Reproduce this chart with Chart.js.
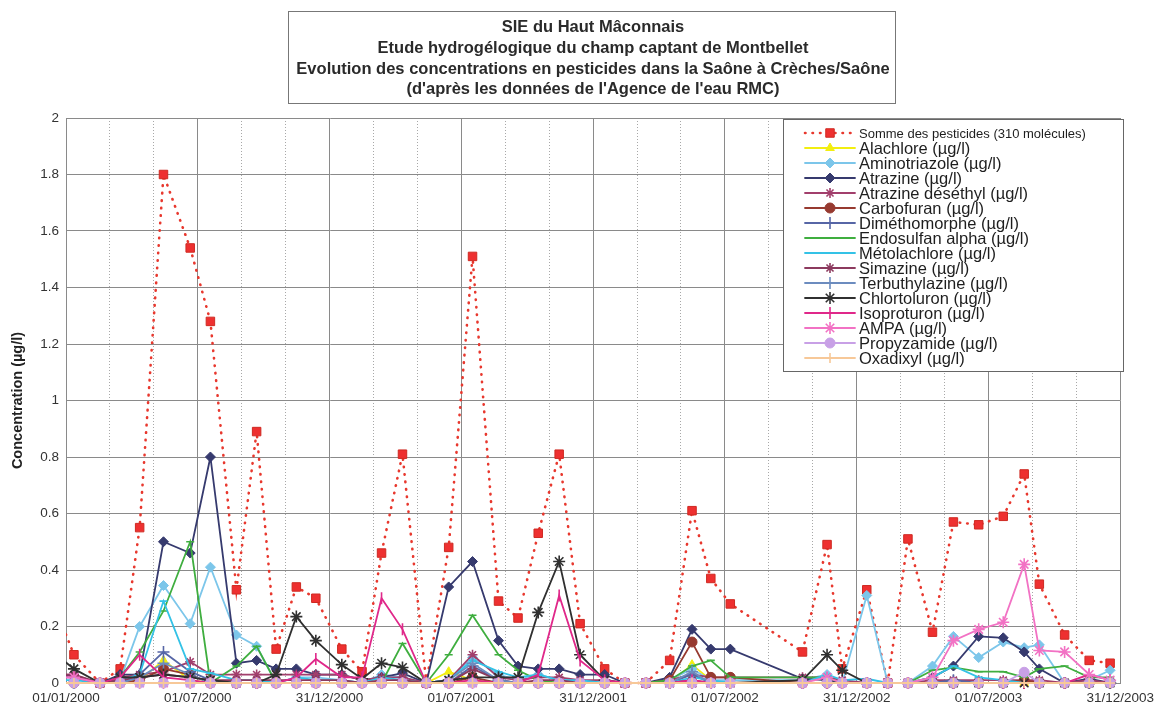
<!DOCTYPE html>
<html lang="fr">
<head>
  <meta charset="UTF-8">
  <title>Pesticides Saône</title>
  <script src="https://cdn.jsdelivr.net/npm/chart.js@4.4.0/dist/chart.umd.min.js"></script>
  <style>
    body { margin: 0; background: #fff; }
  </style>
</head>
<body>
  <canvas id="myChart" width="1161" height="709"></canvas>

  <script>
    // dates des prélèvements
    const dates = [
      '1999-12-09', '2000-01-12', '2000-02-17', '2000-03-16', '2000-04-12', '2000-05-15', '2000-06-21',
      '2000-07-19', '2000-08-24', '2000-09-21', '2000-10-18', '2000-11-15', '2000-12-12',
      '2001-01-17', '2001-02-14', '2001-03-13', '2001-04-11', '2001-05-14', '2001-06-14',
      '2001-07-17', '2001-08-22', '2001-09-18', '2001-10-16', '2001-11-14', '2001-12-13',
      '2002-01-16', '2002-02-13', '2002-03-14', '2002-04-16', '2002-05-17', '2002-06-12',
      '2002-07-09', '2002-10-17', '2002-11-20', '2002-12-11',
      '2003-01-14', '2003-02-12', '2003-03-12', '2003-04-15', '2003-05-14', '2003-06-18',
      '2003-07-22', '2003-08-20', '2003-09-10', '2003-10-15', '2003-11-18', '2003-12-17'
    ];

    // concentrations (µg/l)
    const somme = [0.32, 0.10, 0, 0.05, 0.55, 1.80, 1.54, 1.28, 0.33, 0.89, 0.12, 0.34, 0.30,
      0.12, 0.04, 0.46, 0.81, 0, 0.48, 1.51, 0.29, 0.23, 0.53, 0.81, 0.21,
      0.05, 0, 0, 0.08, 0.61, 0.37, 0.28, 0.11, 0.49, 0.05,
      0.33, 0, 0.51, 0.18, 0.57, 0.56, 0.59, 0.74, 0.35, 0.17, 0.08, 0.07];
    const alachlore = [0, 0, 0, 0, 0.01, 0.08, 0.01, 0, 0, 0, 0, 0, 0,
      0, 0, 0, 0, 0, 0.04, 0.01, 0, 0, 0, 0, 0,
      0, 0, 0, 0, 0.065, 0.01, 0, 0, 0, 0,
      0, 0, 0, 0, 0, 0, 0, 0, 0, 0, 0, 0];
    const aminotriazole = [0.02, 0.02, 0, 0.01, 0.20, 0.345, 0.21, 0.41, 0.17, 0.13, 0, 0.02, 0.02,
      0.01, 0, 0.03, 0.02, 0, 0.01, 0.09, 0.03, 0.01, 0.03, 0.01, 0.01,
      0, 0, 0, 0.01, 0.05, 0.01, 0.01, 0.01, 0.03, 0,
      0.31, 0, 0, 0.06, 0.165, 0.09, 0.145, 0.125, 0.135, 0, 0.01, 0.045];
    const atrazine = [0.03, 0.025, 0, 0.03, 0.03, 0.50, 0.46, 0.80, 0.07, 0.08, 0.05, 0.05, 0.03,
      0.03, 0.01, 0.02, 0.035, 0, 0.34, 0.43, 0.15, 0.06, 0.05, 0.05, 0.03,
      0.03, 0, 0, 0.02, 0.19, 0.12, 0.12, 0.015, 0.01, 0,
      0, 0, 0, 0.02, 0.06, 0.165, 0.16, 0.11, 0.05, 0, 0.015, 0];
    const atrazineDes = [0.03, 0.03, 0, 0.02, 0.03, 0.04, 0.075, 0.03, 0.03, 0.03, 0.03, 0.03, 0.03,
      0.03, 0.01, 0.02, 0.02, 0, 0.01, 0.10, 0.02, 0.01, 0.02, 0.02, 0.01,
      0.01, 0, 0, 0.01, 0.03, 0.02, 0.02, 0.02, 0.02, 0.01,
      0, 0, 0, 0.01, 0.01, 0.01, 0.01, 0.01, 0.01, 0, 0.01, 0];
    const carbofuran = [0, 0, 0, 0, 0.01, 0.05, 0.03, 0, 0, 0, 0, 0, 0,
      0, 0, 0, 0, 0, 0, 0.02, 0, 0, 0, 0, 0,
      0, 0, 0, 0.01, 0.145, 0.02, 0.02, 0, 0, 0,
      0, 0, 0, 0, 0, 0, 0, 0.01, 0, 0, 0, 0];
    const dimethomorphe = [0, 0, 0, 0, 0.03, 0.11, 0.04, 0.01, 0, 0, 0, 0, 0,
      0, 0, 0, 0, 0, 0, 0.06, 0.01, 0, 0, 0, 0,
      0, 0, 0, 0, 0.03, 0, 0, 0, 0, 0,
      0, 0, 0, 0, 0.01, 0, 0, 0, 0, 0, 0, 0];
    const endosulfan = [0, 0, 0, 0.02, 0.11, 0.255, 0.50, 0, 0.06, 0.13, 0, 0, 0,
      0, 0, 0, 0.14, 0, 0.10, 0.24, 0.10, 0.045, 0.01, 0, 0,
      0, 0, 0, 0.01, 0.06, 0.08, 0.02, 0.02, 0.02, 0,
      0, 0, 0, 0.045, 0.055, 0.04, 0.04, 0.02, 0.05, 0.06, 0.02, 0.02];
    const metolachlore = [0.01, 0.01, 0, 0.01, 0.03, 0.29, 0.05, 0.035, 0.01, 0.01, 0, 0.02, 0.01,
      0.01, 0, 0.02, 0.01, 0, 0.01, 0.08, 0.04, 0.02, 0.03, 0.01, 0.01,
      0, 0, 0, 0, 0.02, 0.01, 0, 0, 0.03, 0.01,
      0.015, 0, 0, 0.02, 0.06, 0.02, 0.01, 0, 0, 0, 0, 0];
    const simazine = [0.03, 0.03, 0, 0.01, 0.02, 0.03, 0.02, 0.01, 0.01, 0.01, 0.01, 0.01, 0.01,
      0.01, 0, 0.01, 0.01, 0, 0, 0.05, 0.01, 0, 0.01, 0.01, 0,
      0, 0, 0, 0, 0.01, 0, 0, 0, 0, 0,
      0, 0, 0, 0, 0, 0, 0, 0, 0, 0, 0, 0];
    const terbuthylazine = [0, 0, 0, 0, 0.02, 0.07, 0.03, 0, 0, 0, 0, 0, 0,
      0, 0, 0, 0, 0, 0.01, 0.07, 0.01, 0, 0, 0, 0,
      0, 0, 0, 0, 0.04, 0, 0, 0, 0, 0,
      0, 0, 0, 0, 0, 0, 0, 0, 0, 0, 0, 0];
    const chlortoluron = [0.12, 0.05, 0, 0.02, 0.02, 0.03, 0.02, 0.01, 0, 0, 0.03, 0.235, 0.15,
      0.065, 0.015, 0.07, 0.055, 0, 0.01, 0.02, 0.02, 0.02, 0.25, 0.43, 0.10,
      0.01, 0, 0, 0, 0, 0, 0, 0.01, 0.10, 0.045,
      0, 0, 0, 0, 0, 0, 0, 0, 0, 0, 0, 0];
    const isoproturon = [0.02, 0.02, 0, 0.02, 0.10, 0.02, 0.01, 0, 0, 0, 0, 0.02, 0.085,
      0.02, 0.02, 0.30, 0.19, 0, 0, 0.01, 0, 0, 0.03, 0.31, 0.08,
      0.01, 0, 0, 0, 0.01, 0, 0, 0, 0, 0,
      0, 0, 0, 0, 0, 0, 0, 0, 0, 0, 0.03, 0.01];
    const ampa = [0.02, 0.02, 0, 0, 0, 0, 0, 0, 0, 0, 0, 0, 0,
      0, 0, 0, 0, 0, 0, 0, 0, 0, 0, 0, 0,
      0, 0, 0, 0, 0, 0, 0, 0, 0.02, 0,
      0, 0, 0, 0.02, 0.15, 0.19, 0.215, 0.42, 0.115, 0.11, 0.03, 0.01];
    const propyzamide = [0, 0, 0, 0, 0, 0, 0, 0, 0, 0, 0, 0, 0,
      0, 0, 0, 0, 0, 0, 0, 0, 0, 0, 0, 0,
      0, 0, 0, 0, 0, 0, 0, 0, 0, 0,
      0, 0, 0, 0, 0, 0, 0, 0.038, 0, 0, 0, 0];
    const oxadixyl = [0, 0, 0, 0, 0, 0, 0, 0, 0, 0, 0, 0, 0,
      0, 0, 0, 0, 0, 0, 0, 0, 0, 0, 0, 0,
      0, 0, 0, 0, 0, 0, 0, 0, 0, 0,
      0, 0, 0, 0, 0, 0, 0, 0, 0, 0, 0, 0];

    const titre = [
      'SIE du Haut Mâconnais',
      'Etude hydrogélogique du champ captant de Montbellet',
      'Evolution des concentrations en pesticides dans la Saône à Crèches/Saône',
      "(d'après les données de l'Agence de l'eau RMC)"
    ];

    const police = "'Liberation Sans', Arial, sans-serif";
    const jour0 = Date.UTC(2000, 0, 1);
    const finAxe = 1460; // 31/12/2003

    function jour(d) {
      const p = d.split('-');
      return (Date.UTC(+p[0], +p[1] - 1, +p[2]) - jour0) / 86400000;
    }
    function deux(n) { return (n < 10 ? '0' : '') + n; }
    function libelleDate(v) {
      const dt = new Date(jour0 + Math.floor(v + 1e-6) * 86400000);
      return deux(dt.getUTCDate()) + '/' + deux(dt.getUTCMonth() + 1) + '/' + dt.getUTCFullYear();
    }

    // [libellé, valeurs, couleur, marqueur, taille]
    const series = [
      ['Somme des pesticides (310 molécules)', somme, '#e8382e', 'rect', 6],
      ['Alachlore (µg/l)', alachlore, '#f2ee10', 'triangle', 5],
      ['Aminotriazole (µg/l)', aminotriazole, '#7cc6ea', 'rectRot', 5],
      ['Atrazine (µg/l)', atrazine, '#363a6e', 'rectRot', 5],
      ['Atrazine déséthyl (µg/l)', atrazineDes, '#a23f6c', 'star', 5],
      ['Carbofuran (µg/l)', carbofuran, '#973a30', 'circle', 5],
      ['Diméthomorphe (µg/l)', dimethomorphe, '#5766a6', 'cross', 6],
      ['Endosulfan alpha (µg/l)', endosulfan, '#3fae3f', 'line', 4],
      ['Métolachlore (µg/l)', metolachlore, '#34c2e6', 'line', 4],
      ['Simazine (µg/l)', simazine, '#8c3a5e', 'star', 5],
      ['Terbuthylazine (µg/l)', terbuthylazine, '#6c8cbf', 'cross', 6],
      ['Chlortoluron (µg/l)', chlortoluron, '#303030', 'star', 6],
      ['Isoproturon (µg/l)', isoproturon, '#e0288a', 'line', 6],
      ['AMPA (µg/l)', ampa, '#f272c4', 'star', 6],
      ['Propyzamide (µg/l)', propyzamide, '#c8a0e6', 'circle', 5],
      ['Oxadixyl (µg/l)', oxadixyl, '#f7c898', 'cross', 5]
    ];

    const datasets = series.map(function (s, i) {
      const somme = i === 0;
      return {
        label: s[0],
        data: dates.map(function (d, k) { return { x: jour(d), y: s[1][k] }; }),
        borderColor: s[2],
        backgroundColor: somme ? '#ee3030' : s[2],
        pointBorderColor: somme ? '#cf2a22' : s[2],
        borderWidth: somme ? 2.6 : 1.8,
        borderDash: somme ? [0.5, 7] : [],
        borderCapStyle: 'round',
        pointStyle: s[3],
        pointRadius: s[4],
        pointRotation: s[0].indexOf('Isoproturon') === 0 ? 90 : 0,
        pointBorderWidth: s[3] === 'star' || s[3] === 'cross' || s[3] === 'line' ? 1.6 : 1,
        tension: 0,
        fill: false,
        clip: { left: 0, top: 8, right: 8, bottom: 8 },
        order: -i
      };
    });

    const cadreTitre = {
      id: 'cadreTitre',
      afterDraw(chart) {
        const ctx = chart.ctx;
        ctx.save();
        ctx.strokeStyle = '#777';
        ctx.lineWidth = 1;
        ctx.strokeRect(288.5, 11.5, 607, 92);
        ctx.fillStyle = '#2a2a2a';
        ctx.font = 'bold 16.5px ' + police;
        ctx.textAlign = 'center';
        ctx.textBaseline = 'middle';
        const ys = [27, 48, 69, 89];
        titre.forEach(function (t, i) { ctx.fillText(t, 593, ys[i]); });
        ctx.restore();
      }
    };

    const legende = {
      id: 'legende',
      afterDraw(chart) {
        const ctx = chart.ctx;
        ctx.save();
        ctx.fillStyle = '#fff';
        ctx.fillRect(783, 119, 340, 252);
        ctx.strokeStyle = '#666';
        ctx.lineWidth = 1;
        ctx.strokeRect(783.5, 119.5, 340, 252);
        chart.data.datasets.forEach(function (ds, i) {
          const y = 133 + i * 15;
          ctx.save();
          ctx.strokeStyle = ds.borderColor;
          ctx.lineWidth = ds.borderWidth;
          ctx.lineCap = 'round';
          ctx.setLineDash(ds.borderDash);
          ctx.beginPath();
          ctx.moveTo(805, y);
          ctx.lineTo(855, y);
          ctx.stroke();
          ctx.restore();
          ctx.save();
          ctx.fillStyle = ds.backgroundColor;
          ctx.strokeStyle = ds.pointBorderColor;
          ctx.lineWidth = ds.pointBorderWidth;
          Chart.helpers.drawPoint(ctx, {
            pointStyle: ds.pointStyle,
            radius: ds.pointRadius,
            rotation: ds.pointRotation,
            borderWidth: ds.pointBorderWidth
          }, 830, y);
          ctx.restore();
          ctx.fillStyle = '#1e1e1e';
          ctx.textAlign = 'left';
          ctx.textBaseline = 'middle';
          ctx.font = (i === 0 ? '13px ' : '16.5px ') + police;
          ctx.fillText(ds.label, 859, y + 1);
        });
        ctx.restore();
      }
    };

    new Chart('myChart', {
      type: 'line',
      data: { datasets: datasets },
      options: {
        responsive: false,
        animation: false,
        devicePixelRatio: 1,
        layout: { padding: { top: 118, right: 37, left: 0, bottom: 0 } },
        plugins: {
          legend: { display: false },
          tooltip: { enabled: false }
        },
        scales: {
          x: {
            type: 'linear',
            min: 0,
            max: finAxe,
            afterBuildTicks: function (scale) {
              const t = [];
              for (let i = 0; i <= 24; i++) t.push({ value: i * finAxe / 24 });
              scale.ticks = t;
            },
            afterFit: function (scale) { scale.height = 26; },
            ticks: {
              autoSkip: false,
              maxRotation: 0,
              padding: 7,
              color: '#333',
              font: { family: police, size: 13.5 },
              callback: function (v, i) { return i % 3 === 0 ? libelleDate(v) : ''; }
            },
            grid: {
              drawTicks: false,
              color: function (c) { return c.index % 3 === 0 ? '#8a8a8a' : '#a8a8a8'; },
              lineWidth: 1
            },
            border: {
              color: '#8a8a8a',
              dash: function (c) { return c.index % 3 === 0 ? [] : [1, 2]; }
            }
          },
          y: {
            min: 0,
            max: 2,
            afterFit: function (scale) { scale.width = 66; },
            ticks: {
              stepSize: 0.2,
              padding: 7,
              color: '#333',
              font: { family: police, size: 13.5 },
              callback: function (v) { return String(Math.round(v * 10) / 10); }
            },
            grid: { drawTicks: false, color: '#8a8a8a', lineWidth: 1 },
            border: { color: '#8a8a8a' },
            title: {
              display: true,
              text: 'Concentration (µg/l)',
              color: '#222',
              font: { family: police, size: 14.5, weight: 'bold' },
              padding: { top: 9, bottom: 0 }
            }
          }
        }
      },
      plugins: [cadreTitre, legende]
    });
  </script>
</body>
</html>
